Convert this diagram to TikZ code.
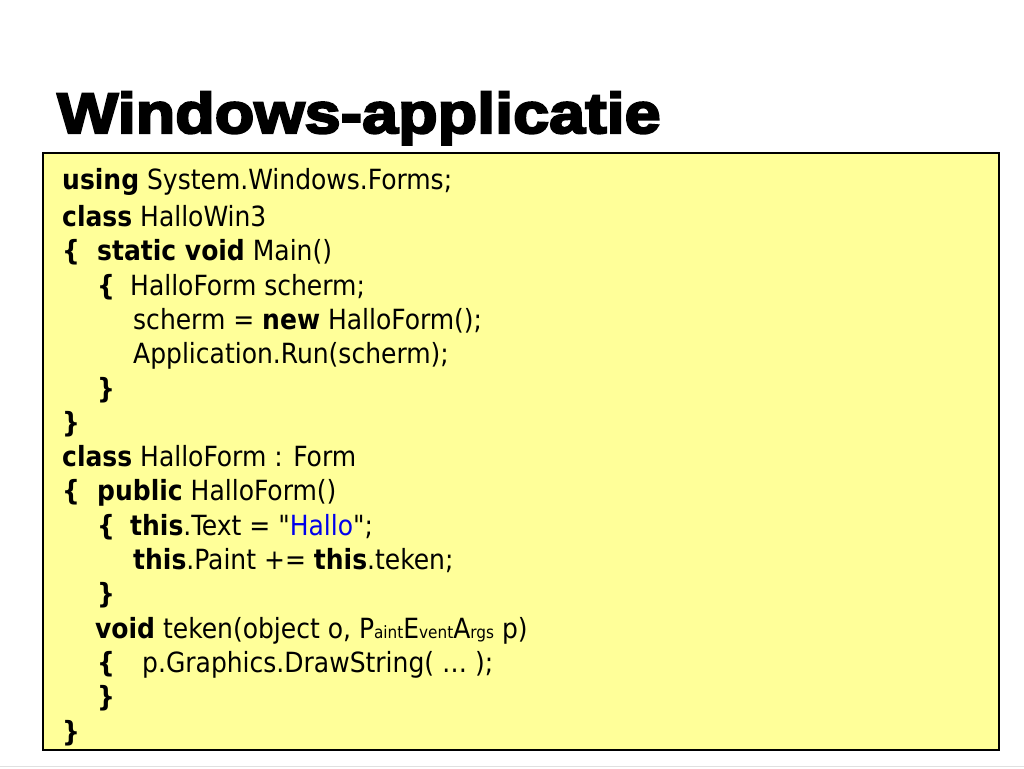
\documentclass[tikz,border=0pt]{standalone}
\usepackage{fontspec}
\setmainfont{Liberation Sans}
\newfontfamily\titlefont{Liberation Sans}[FakeStretch=1.135,FakeBold=4]
\newfontfamily\codefont{DejaVu Sans Condensed}
\definecolor{notegeel}{RGB}{255,255,153}
\definecolor{hallo}{RGB}{0,0,235}
\newcommand{\kw}[1]{\textbf{#1}}
\newcommand{\brc}[1]{\makebox[#1][l]{\textbf{\{}}}
\newcommand{\sm}[1]{{\fontsize{17}{18}\selectfont #1}}

\begin{document}
\begin{tikzpicture}[x=1pt,y=-1pt,
    every node/.style={inner sep=0pt,anchor=base west},
    code/.style={font=\codefont\fontsize{27.8}{30}\selectfont}]
  \useasboundingbox (0,0) rectangle (1024,768);
  \fill [white] (0,0) rectangle (1024,768);
  \draw [black!12] (0,766) -- (1024,766);
  \draw [black, line width=1.2pt, fill=notegeel] (43,153) rectangle (999,750);
  \node [font=\titlefont\bfseries\fontsize{57}{60}\selectfont] (titel) at (57,133) {Windows-applicatie};
  % class HalloWin3
  \node [code] (l1) at (62,189) {\kw{using} System.Windows.Forms;};
  \node [code] (l2) at (62,226.5) {\kw{class} HalloWin3};
  \node [code] (l3) at (62,260.8) {\brc{35pt}\kw{static void} Main()};
  \node [code] (l4) at (97,295.1) {\brc{33pt}HalloForm scherm;};
  \node [code] (l5) at (133,329.4) {scherm = \kw{new} HalloForm();};
  \node [code] (l6) at (133,363.7) {Application.Run(scherm);};
  \node [code] (l7) at (97,398) {\kw{\}}};
  \node [code] (l8) at (62,432.3) {\kw{\}}};
  % class HalloForm
  \node [code] (l9) at (62,466.6) {\kw{class} HalloForm : Form};
  \node [code] (l10) at (62,500.9) {\brc{35pt}\kw{public} HalloForm()};
  \node [code] (l11) at (97,535.2) {\brc{33pt}\kw{this}.Text = "\textcolor{hallo}{Hallo}";};
  \node [code] (l12) at (133,569.5) {\kw{this}.Paint += \kw{this}.teken;};
  \node [code] (l13) at (97,603.8) {\kw{\}}};
  \node [code] (l14) at (95,638.1) {\kw{void} teken(object o, P\sm{aint}E\sm{vent}A\sm{rgs} p)};
  \node [code] (l15) at (97,672.4) {\brc{45pt}p.Graphics.DrawString( … );};
  \node [code] (l16) at (97,706.7) {\kw{\}}};
  \node [code] (l17) at (62,741) {\kw{\}}};
\end{tikzpicture}
\end{document}
